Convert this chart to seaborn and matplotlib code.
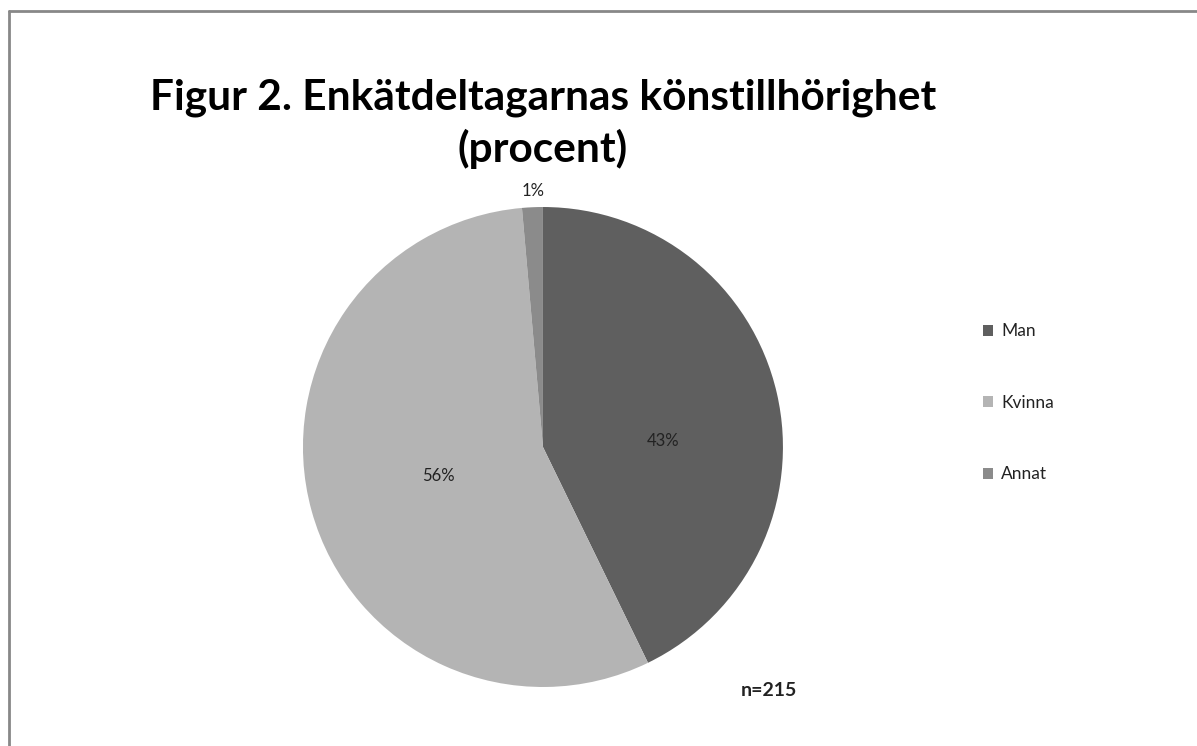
import seaborn as sns
import matplotlib.pyplot as plt
from matplotlib.lines import Line2D

# Data
categories = ["Man", "Kvinna", "Annat"]
counts = [92, 120, 3]
colors = ["#5f5f5f", "#b4b4b4", "#8b8b8b"]
title = "Figur 2. Enkätdeltagarnas könstillhörighet\n(procent)"
note = "n=215"


def main():
    sns.set_theme(style="white")
    plt.rcParams["font.family"] = ["Lato", "DejaVu Sans"]

    fig = plt.figure(figsize=(11.97, 7.46), dpi=100)
    ax = fig.add_axes([0.2531, 0.0791, 0.401, 0.6434])

    wedges, texts, autotexts = ax.pie(
        counts, colors=colors, startangle=90, counterclock=False,
        autopct="%1.0f%%", pctdistance=0.45,
        textprops=dict(fontsize=12, color="#222222"),
        wedgeprops=dict(linewidth=0),
    )
    ax.set_xlim(-1, 1)
    ax.set_ylim(-1, 1)
    ax.set_aspect("equal")

    # Excel-style label placement
    autotexts[0].set_position((0.50, 0.025))
    autotexts[2].set_position((-0.04, 1.065))

    fig.text(0.4536, 0.834, title, ha="center", va="center", fontsize=30.5,
             fontweight="bold", color="black", linespacing=1.34)

    fig.text(0.642, 0.075, note, ha="center", va="center", fontsize=14,
             fontweight="bold", color="#222222")

    fig.legend(wedges, categories, loc="center left",
               bbox_to_anchor=(0.808, 0.46), frameon=False, fontsize=12.5,
               handlelength=0.6, handleheight=0.6, handletextpad=0.45,
               labelspacing=3.2, labelcolor="#222222")

    # outer border of the chart area
    fig.add_artist(Line2D([9 / 1197, 9 / 1197], [0, 1 - 11 / 746],
                          transform=fig.transFigure, color="#888888", lw=2))
    fig.add_artist(Line2D([9 / 1197, 1], [1 - 11 / 746, 1 - 11 / 746],
                          transform=fig.transFigure, color="#888888", lw=2))

    fig.savefig("out.png", dpi=100)


if __name__ == "__main__":
    main()
